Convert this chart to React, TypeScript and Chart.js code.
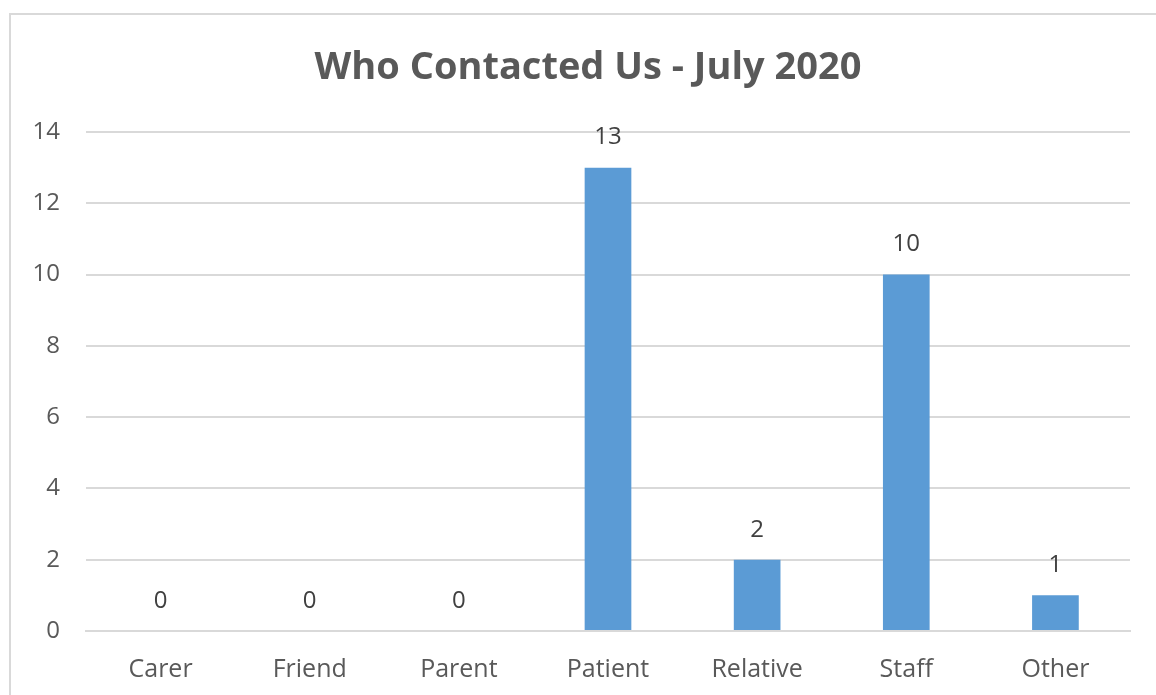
import React, { useEffect, useRef } from "react";
import { Chart, registerables } from "chart.js";

Chart.register(...registerables);

const categories = ["Carer", "Friend", "Parent", "Patient", "Relative", "Staff", "Other"];
const contacts = [0, 0, 0, 13, 2, 10, 1];
const yTicks = [0, 2, 4, 6, 8, 10, 12, 14];
const titleText = "Who Contacted Us - July 2020";

const FONT = "'Open Sans', Lato, sans-serif";
const TEXT = "#595959";

const valueLabels = {
  id: "valueLabels",
  afterDatasetsDraw(chart: any) {
    const ctx = chart.ctx;
    const meta = chart.getDatasetMeta(0);
    ctx.save();
    ctx.font = `24px ${FONT}`;
    ctx.fillStyle = "#404040";
    ctx.textAlign = "center";
    ctx.textBaseline = "middle";
    meta.data.forEach((bar: any, i: number) => {
      ctx.fillText(String(contacts[i]), bar.x, bar.y - 30);
    });
    ctx.restore();
  },
};

const customTitle = {
  id: "customTitle",
  afterDraw(chart: any) {
    const ctx = chart.ctx;
    ctx.save();
    ctx.font = `bold 38px ${FONT}`;
    ctx.fillStyle = TEXT;
    ctx.textAlign = "center";
    ctx.textBaseline = "middle";
    ctx.fillText(titleText, 588, 68);
    ctx.restore();
  },
};

export default function App() {
  const ref = useRef<HTMLCanvasElement | null>(null);
  useEffect(() => {
    if (!ref.current) return;
    const chart = new Chart(ref.current, {
      type: "bar",
      data: {
        labels: categories,
        datasets: [
          {
            data: contacts,
            backgroundColor: "#5B9BD5",
            barPercentage: 0.313,
            categoryPercentage: 1,
          },
        ],
      },
      options: {
        animation: false,
        responsive: false,
        maintainAspectRatio: false,
        layout: { padding: { left: 0, right: 26, top: 132, bottom: 0 } },
        plugins: {
          legend: { display: false },
          tooltip: { enabled: false },
          title: { display: false },
        },
        scales: {
          x: {
            grid: { display: false, drawTicks: false },
            border: { display: true, color: "#d9d9d9", width: 2 },
            ticks: { color: TEXT, font: { family: FONT, size: 25 }, padding: 24 },
            afterFit(scale: any) {
              scale.height = 64;
            },
          },
          y: {
            min: 0,
            max: 14,
            afterBuildTicks(scale: any) {
              scale.ticks = yTicks.map((v) => ({ value: v }));
            },
            grid: { color: "#d9d9d9", lineWidth: 2, drawTicks: false },
            border: { display: false },
            ticks: { color: TEXT, font: { family: FONT, size: 24 }, padding: 26 },
            afterFit(scale: any) {
              scale.width = 86;
            },
          },
        },
      },
      plugins: [valueLabels, customTitle],
    });
    return () => chart.destroy();
  }, []);

  return (
    <div style={{ position: "fixed", left: 0, top: 0, width: 1156, height: 695, background: "#fff", overflow: "hidden" }}>
      <div
        style={{
          position: "absolute",
          left: 9,
          top: 13,
          width: 1200,
          height: 800,
          border: "2px solid #d9d9d9",
          boxSizing: "border-box",
        }}
      />
      <canvas ref={ref} width={1156} height={695} style={{ position: "absolute", left: 0, top: 0 }} />
    </div>
  );
}
